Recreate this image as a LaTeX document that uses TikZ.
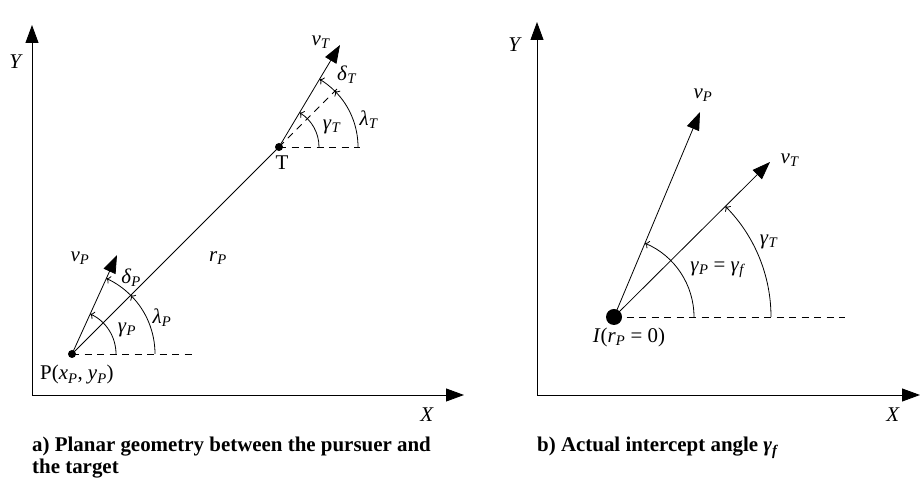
\documentclass[tikz,border=0pt]{standalone}
\usepackage{fontspec}
\setmainfont{Liberation Serif}
\usetikzlibrary{arrows.meta}
\newcommand{\symsub}[2]{\textit{#1}\textsubscript{\textit{#2}}}
\begin{document}
\begin{tikzpicture}[x=1bp,y=1bp,
  font=\fontsize{21}{25}\selectfont,
  axisline/.style={line width=0.9bp,-{Triangle[length=18bp,width=13bp]}},
  vecline/.style={line width=0.8bp,-{Triangle[length=18bp,width=13bp]}},
  dashline/.style={line width=0.8bp,dash pattern=on 7bp off 5.5bp},
  plainline/.style={line width=0.8bp},
  angarc/.style={line width=0.8bp,-{To[length=4bp,width=8bp]}},
  lbl/.style={inner sep=0pt},
  caption/.style={inner sep=0pt,anchor=base west,font=\fontsize{21}{25}\selectfont\bfseries},
  smalldot/.style={circle,fill=black,inner sep=0pt,minimum size=8bp},
  bigdot/.style={circle,fill=black,inner sep=0pt,minimum size=16bp}]
\useasboundingbox (0,0) rectangle (920,479);
% ---------------- left panel ----------------
\coordinate (O1) at (32,84);
\coordinate (Y1) at (32,454);
\coordinate (X1) at (464,84);
\draw[axisline] (O1) -- (Y1);
\draw[axisline] (O1) -- (X1);
\node[lbl] (Ylab1) at (16,417) {\textit{Y}};
\node[lbl] (Xlab1) at (427,64) {\textit{X}};

\node[smalldot] (P) at (72,125) {};
\node[smalldot] (T) at (279,332) {};
\coordinate (Ph) at (197,125);
\coordinate (Th) at (360,332);
\coordinate (LOSend) at (339,392);
\coordinate (vPtip) at (117,224);
\coordinate (vTtip) at (340,434);

\draw[dashline] (P.center) -- (Ph);
\draw[dashline] (T.center) -- (Th);
\draw[plainline] (P.center) -- (T.center);
\draw[dashline] (T.center) -- (LOSend);
\draw[vecline] (P.center) -- (vPtip);
\draw[vecline] (T.center) -- (vTtip);

% angle arcs at P
\draw[angarc] ([xshift=44bp]P.center) arc[start angle=0,end angle=65.6,radius=44];
\draw[angarc] ([xshift=83bp]P.center) arc[start angle=0,end angle=45,radius=83];
\draw[angarc] (P.center) ++(45:83) arc[start angle=45,end angle=65.6,radius=83];
% angle arcs at T
\draw[angarc] ([xshift=40bp]T.center) arc[start angle=0,end angle=59.1,radius=40];
\draw[angarc] ([xshift=79bp]T.center) arc[start angle=0,end angle=45,radius=79];
\draw[angarc] (T.center) ++(45:79) arc[start angle=45,end angle=59.1,radius=79];

% labels left
\node[lbl] (vPlab) at (80,221) {\symsub{v}{P}};
\node[lbl] (rPlab) at (218,221) {\symsub{r}{P}};
\node[lbl] (dPlab) at (131,201) {\symsub{δ}{P}};
\node[lbl] (gPlab) at (127,149) {\symsub{γ}{P}};
\node[lbl] (lPlab) at (162,161) {\symsub{λ}{P}};
\node[lbl,anchor=west] (Plab) at (40,104) {P(\symsub{x}{P}, \symsub{y}{P})};
\node[lbl] (Tlab) at (282,316) {T};
\node[lbl] (vTlab) at (321,437) {\symsub{v}{T}};
\node[lbl] (dTlab) at (347,404) {\symsub{δ}{T}};
\node[lbl] (gTlab) at (332,352) {\symsub{γ}{T}};
\node[lbl] (lTlab) at (369,359) {\symsub{λ}{T}};

\node[caption] (capA1) at (32,27) {a) Planar geometry between the pursuer and};
\node[caption] (capA2) at (32,5) {the target};

% ---------------- right panel ----------------
\coordinate (O2) at (537,84);
\coordinate (Y2) at (537,457);
\coordinate (X2) at (920,84);
\draw[axisline] (O2) -- (Y2);
\draw[axisline] (O2) -- (X2);
\node[lbl] (Ylab2) at (515,434) {\textit{Y}};
\node[lbl] (Xlab2) at (893,64) {\textit{X}};

\node[bigdot] (I) at (614,162) {};
\coordinate (Ih) at (845,162);
\coordinate (vP2tip) at (700,367);
\coordinate (vT2tip) at (770,317);
\draw[dashline] (I.center) -- (Ih);
\draw[vecline] (I.center) -- (vP2tip);
\draw[vecline] (I.center) -- (vT2tip);
\draw[angarc] ([xshift=80bp]I.center) arc[start angle=0,end angle=67.2,radius=80];
\draw[angarc] ([xshift=157bp]I.center) arc[start angle=0,end angle=44.8,radius=157];

\node[lbl] (vP2lab) at (703,384) {\symsub{v}{P}};
\node[lbl] (vT2lab) at (790,319) {\symsub{v}{T}};
\node[lbl] (gT2lab) at (769,237) {\symsub{γ}{T}};
\node[lbl] (gPflab) at (718,209) {\symsub{γ}{P} = \symsub{γ}{f}};
\node[lbl] (Ilab) at (629,142) {\textit{I}(\symsub{r}{P} = 0)};

\node[caption] (capB) at (537,27) {b) Actual intercept angle \symsub{γ}{f}};
\end{tikzpicture}
\end{document}
